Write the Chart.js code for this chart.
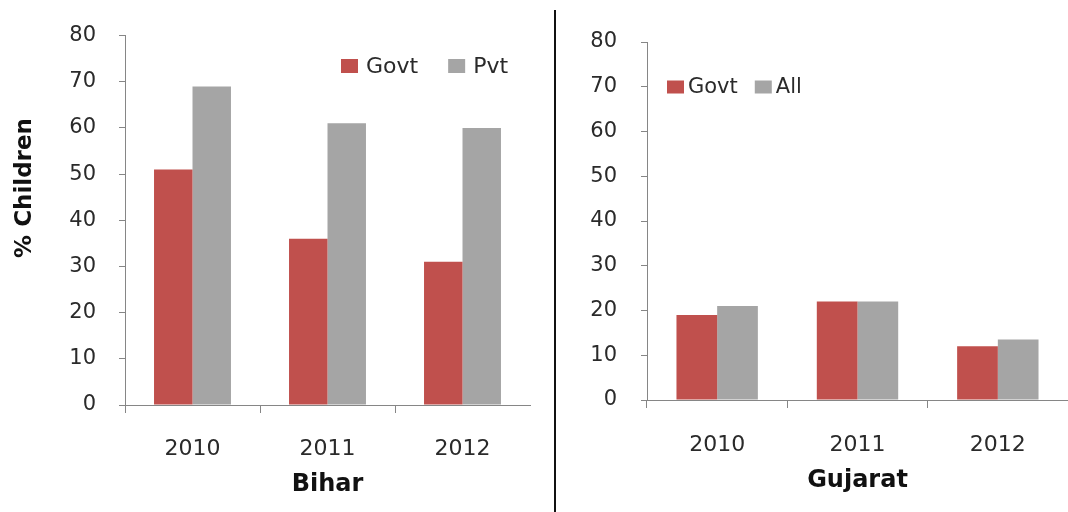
<!DOCTYPE html>
<html>
<head>
<meta charset="utf-8">
<script src="https://cdn.jsdelivr.net/npm/chart.js@4.4.1/dist/chart.umd.min.js"></script>
<style>
  html, body { margin: 0; padding: 0; background: #ffffff; }
  #wrap { position: relative; width: 1068px; height: 512px; overflow: hidden; background: #fff; }
  #c1 { position: absolute; left: 0; top: 0; }
  #c2 { position: absolute; left: 555px; top: 0; }
  #divider { position: absolute; left: 554px; top: 10px; width: 2px; height: 502px; background: #111; }
</style>
</head>
<body>
<div id="wrap">
  <canvas id="c1" width="555" height="512"></canvas>
  <div id="divider"></div>
  <canvas id="c2" width="513" height="512"></canvas>
</div>
<script>
// ---- data ----
const years = ["2010", "2011", "2012"];
const biharGovt = [51, 36, 31];
const biharPvt = [69, 61, 60];
const gujaratGovt = [19, 22, 12];
const gujaratAll = [21, 22, 13.5];
const yTicks = [0, 10, 20, 30, 40, 50, 60, 70, 80];
const leftTitle = "Bihar";
const rightTitle = "Gujarat";
const yAxisTitle = "% Children";

// ---- styles ----
const RED = "#C0504D";
const GREY = "#A5A5A5";
const AXIS = "#868686";
const TEXT = "#2a2a2a";
const FONT = "'DejaVu Sans', Verdana, sans-serif";

// custom legend drawn inside chart area
const boxLegend = {
  id: "boxLegend",
  afterDraw(chart, args, opts) {
    const ctx = chart.ctx;
    ctx.save();
    ctx.font = opts.size + "px " + FONT;
    ctx.textBaseline = "middle";
    ctx.textAlign = "left";
    let x = opts.x;
    chart.data.datasets.forEach((ds) => {
      ctx.fillStyle = ds.backgroundColor;
      ctx.fillRect(x, opts.y - opts.boxH / 2, opts.boxW, opts.boxH);
      x += opts.boxW + opts.boxGap;
      ctx.fillStyle = TEXT;
      ctx.fillText(ds.label, x, opts.y + 1);
      x += ctx.measureText(ds.label).width + opts.itemGap;
    });
    ctx.restore();
  }
};

// rotated y-axis title
const yTitlePlugin = {
  id: "yTitle",
  afterDraw(chart, args, opts) {
    if (!opts.text) return;
    const ctx = chart.ctx;
    ctx.save();
    ctx.translate(opts.x, opts.y);
    ctx.rotate(-Math.PI / 2);
    ctx.font = "bold 23px " + FONT;
    ctx.fillStyle = "#111";
    ctx.textAlign = "center";
    ctx.textBaseline = "middle";
    ctx.fillText(opts.text, 0, 0);
    ctx.restore();
  }
};

function makeChart(canvasId, s1, s2, l1, l2, title, cfg) {
  return new Chart(document.getElementById(canvasId), {
    type: "bar",
    data: {
      labels: years,
      datasets: [
        { label: l1, data: s1, backgroundColor: RED, barPercentage: 1, categoryPercentage: cfg.catPct },
        { label: l2, data: s2, backgroundColor: GREY, barPercentage: 1, categoryPercentage: cfg.catPct }
      ]
    },
    options: {
      responsive: false,
      animation: false,
      devicePixelRatio: 1,
      layout: { padding: { left: 0, right: cfg.padRight, top: cfg.padTop, bottom: 0 } },
      plugins: {
        legend: { display: false },
        tooltip: { enabled: false },
        boxLegend: cfg.legend,
        yTitle: cfg.yTitle
      },
      scales: {
        x: {
          offset: true,
          grid: {
            offset: true, drawOnChartArea: false, drawTicks: true, tickLength: 8, lineWidth: 1,
            color: (c) => (c.type === "tick" ? AXIS : "rgba(0,0,0,0)")
          },
          border: { color: AXIS, width: 1 },
          ticks: { padding: cfg.xPad, color: TEXT, font: { family: FONT, size: 22 } },
          title: { display: true, text: title, color: "#111", font: { family: FONT, size: 24, weight: "bold" }, padding: { top: 0, bottom: cfg.titleBottom } },
          afterFit(s) { s.height = cfg.xHeight; }
        },
        y: {
          min: 0, max: 80,
          afterBuildTicks(s) { s.ticks = yTicks.map(v => ({ value: v })); },
          grid: { drawOnChartArea: false, drawTicks: true, tickLength: 6, color: AXIS, lineWidth: 1 },
          border: { color: AXIS, width: 1 },
          ticks: { padding: cfg.yPad, color: TEXT, font: { family: FONT, size: 21 } },
          afterFit(s) { s.width = cfg.yWidth; }
        }
      }
    },
    plugins: [boxLegend, yTitlePlugin]
  });
}

makeChart("c1", biharGovt, biharPvt, "Govt", "Pvt", leftTitle, {
  catPct: 0.57, padRight: 25, padTop: 26, xHeight: 107, yWidth: 125,
  xPad: 23, yPad: 23, titleBottom: 13,
  legend: { x: 341, y: 66, boxW: 17, boxH: 14, boxGap: 8, itemGap: 30, size: 22 },
  yTitle: { text: yAxisTitle, x: 25, y: 188 }
});

makeChart("c2", gujaratGovt, gujaratAll, "Govt", "All", rightTitle, {
  catPct: 0.58, padRight: 0, padTop: 42, xHeight: 112, yWidth: 92,
  xPad: 24, yPad: 24, titleBottom: 17,
  legend: { x: 112, y: 87, boxW: 17, boxH: 13, boxGap: 4, itemGap: 17, size: 21 },
  yTitle: { text: "" }
});
</script>
</body>
</html>
